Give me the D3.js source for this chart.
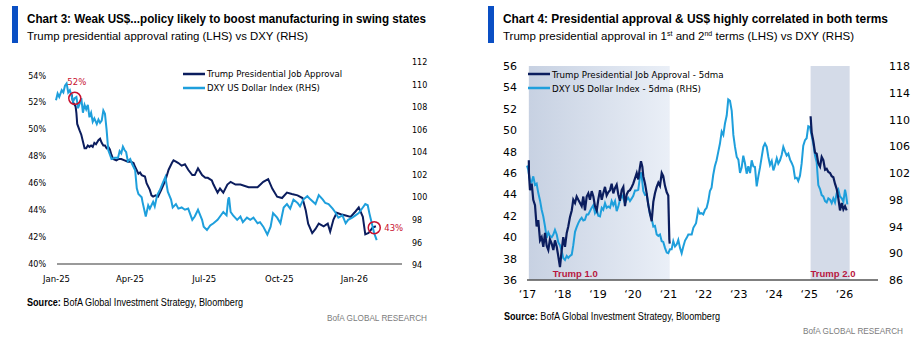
<!DOCTYPE html>
<html>
<head>
<meta charset="utf-8">
<script src="https://cdn.jsdelivr.net/npm/d3@7"></script>
<style>
  body { margin: 0; background: #fff; }
  svg { display: block; }
  text { font-family: "DejaVu Sans", Verdana, sans-serif; }
  .cal { font-family: "Liberation Sans", Arial, sans-serif; }
</style>
</head>
<body>
<svg id="chart" width="921" height="345"></svg>
<script>
// ---- chart 3 data (daily, Jan-25 .. Jan-26)
const approval25 = [["2025-01-20",52.6],["2025-01-22",52.0],["2025-01-25",51.7],["2025-01-26",51.2],["2025-01-27",50.4],["2025-01-30",49.9],["2025-02-01",49.6],["2025-02-03",49.1],["2025-02-05",48.6],["2025-02-07",48.6],["2025-02-09",48.8],["2025-02-11",48.7],["2025-02-13",48.8],["2025-02-15",48.7],["2025-02-17",49.0],["2025-02-19",48.9],["2025-02-22",49.2],["2025-02-24",49.3],["2025-02-26",49.0],["2025-02-28",48.8],["2025-03-02",48.8],["2025-03-04",48.6],["2025-03-06",48.7],["2025-03-08",48.5],["2025-03-10",48.1],["2025-03-12",47.8],["2025-03-16",47.7],["2025-03-19",47.8],["2025-03-22",47.8],["2025-03-26",47.7],["2025-03-30",47.6],["2025-04-03",47.6],["2025-04-06",47.5],["2025-04-08",47.2],["2025-04-12",46.7],["2025-04-14",46.8],["2025-04-16",46.6],["2025-04-20",46.5],["2025-04-22",46.0],["2025-04-26",45.5],["2025-04-28",45.1],["2025-04-30",45.0],["2025-05-03",45.1],["2025-05-06",45.0],["2025-05-10",45.5],["2025-05-15",46.2],["2025-05-19",47.0],["2025-05-23",47.5],["2025-05-25",47.7],["2025-05-28",47.6],["2025-05-31",47.5],["2025-06-04",47.3],["2025-06-08",47.4],["2025-06-12",47.0],["2025-06-17",46.6],["2025-06-20",46.6],["2025-06-24",47.1],["2025-06-29",46.6],["2025-07-03",46.4],["2025-07-06",46.4],["2025-07-11",46.2],["2025-07-13",45.9],["2025-07-18",45.3],["2025-07-21",45.6],["2025-07-25",45.3],["2025-07-30",45.9],["2025-08-03",46.1],["2025-08-09",45.9],["2025-08-15",45.9],["2025-08-25",45.7],["2025-09-05",45.7],["2025-09-12",46.1],["2025-09-18",46.3],["2025-09-23",45.6],["2025-09-29",45.0],["2025-10-05",44.9],["2025-10-11",45.3],["2025-10-17",45.2],["2025-10-24",45.1],["2025-10-30",44.9],["2025-11-03",44.0],["2025-11-06",43.0],["2025-11-11",42.3],["2025-11-15",42.6],["2025-11-19",43.0],["2025-11-25",42.8],["2025-11-30",43.0],["2025-12-03",42.4],["2025-12-07",43.3],["2025-12-11",43.8],["2025-12-16",43.7],["2025-12-22",43.6],["2025-12-28",43.5],["2026-01-03",43.9],["2026-01-07",44.2],["2026-01-12",43.5],["2026-01-15",42.2],["2026-01-19",42.3],["2026-01-24",42.7],["2026-01-28",42.8]];

const dxy25 = [["2025-01-01",108.6],["2025-01-03",109.2],["2025-01-05",108.9],["2025-01-08",109.5],["2025-01-10",109.3],["2025-01-12",109.9],["2025-01-14",110.1],["2025-01-16",109.3],["2025-01-18",109.5],["2025-01-20",109.0],["2025-01-22",108.5],["2025-01-24",108.8],["2025-01-26",108.9],["2025-01-28",107.9],["2025-01-30",108.3],["2025-02-01",108.8],["2025-02-03",107.5],["2025-02-05",108.2],["2025-02-07",107.8],["2025-02-09",108.2],["2025-02-11",107.1],["2025-02-13",107.5],["2025-02-15",106.7],["2025-02-17",107.0],["2025-02-20",106.5],["2025-02-22",106.9],["2025-02-24",106.6],["2025-02-26",106.8],["2025-02-28",107.7],["2025-03-02",107.4],["2025-03-04",106.0],["2025-03-06",104.2],["2025-03-08",103.8],["2025-03-10",103.4],["2025-03-14",103.5],["2025-03-18",103.5],["2025-03-20",104.1],["2025-03-22",103.9],["2025-03-24",104.5],["2025-03-26",104.2],["2025-03-28",104.0],["2025-03-30",103.2],["2025-04-02",103.4],["2025-04-04",103.0],["2025-04-08",102.4],["2025-04-10",100.8],["2025-04-12",100.3],["2025-04-16",100.0],["2025-04-17",99.6],["2025-04-21",98.3],["2025-04-24",99.3],["2025-04-26",99.0],["2025-04-30",99.6],["2025-05-02",99.2],["2025-05-05",100.2],["2025-05-08",100.6],["2025-05-12",101.3],["2025-05-15",101.8],["2025-05-18",100.5],["2025-05-22",99.8],["2025-05-24",99.1],["2025-05-28",99.4],["2025-05-31",99.0],["2025-06-04",99.1],["2025-06-08",98.9],["2025-06-12",99.0],["2025-06-17",98.0],["2025-06-20",98.3],["2025-06-24",98.9],["2025-06-29",98.0],["2025-07-01",97.4],["2025-07-05",97.1],["2025-07-09",97.5],["2025-07-13",97.7],["2025-07-18",98.0],["2025-07-21",98.3],["2025-07-25",98.7],["2025-07-29",98.4],["2025-07-31",99.8],["2025-08-01",100.0],["2025-08-03",98.7],["2025-08-06",98.4],["2025-08-11",98.0],["2025-08-15",98.3],["2025-08-18",97.8],["2025-08-23",98.2],["2025-08-27",98.0],["2025-08-31",98.2],["2025-09-05",97.7],["2025-09-08",97.8],["2025-09-12",97.4],["2025-09-17",96.7],["2025-09-21",97.4],["2025-09-24",98.6],["2025-09-29",98.2],["2025-10-03",97.7],["2025-10-07",99.1],["2025-10-11",99.4],["2025-10-15",99.0],["2025-10-19",99.8],["2025-10-24",99.5],["2025-10-27",99.2],["2025-10-31",99.8],["2025-11-05",100.1],["2025-11-09",99.8],["2025-11-15",99.4],["2025-11-19",100.2],["2025-11-24",99.8],["2025-11-27",99.5],["2025-12-01",99.4],["2025-12-06",99.0],["2025-12-09",98.7],["2025-12-13",98.2],["2025-12-18",98.4],["2025-12-22",97.7],["2025-12-25",98.0],["2025-12-30",98.2],["2026-01-03",98.4],["2026-01-07",98.6],["2026-01-12",99.1],["2026-01-15",99.4],["2026-01-18",99.3],["2026-01-20",98.6],["2026-01-24",97.4],["2026-01-26",96.8],["2026-01-29",96.2]];

const callouts = [["2025-01-24", 52.3, "52%"], ["2026-01-26", 42.7, "43%"]];
const pctTicks = [40, 42, 44, 46, 48, 50, 52, 54];
const dxyTicks3 = [94, 96, 98, 100, 102, 104, 106, 108, 110, 112];
const monthTicks = ["2025-01-01", "2025-04-01", "2025-07-01", "2025-10-01", "2026-01-01"];

// ---- chart 4 data (5dma, 2017 .. 2026)
const approval1 = [["2017-01-20",47.2],["2017-01-21",46.0],["2017-02-01",44.4],["2017-02-19",45.0],["2017-03-07",43.5],["2017-03-25",43.0],["2017-04-11",41.0],["2017-04-28",41.6],["2017-05-16",39.7],["2017-06-02",40.0],["2017-06-19",39.1],["2017-07-07",40.4],["2017-07-24",39.2],["2017-08-10",38.8],["2017-08-27",39.8],["2017-09-14",39.4],["2017-10-01",38.8],["2017-10-18",39.7],["2017-11-05",39.1],["2017-11-22",38.2],["2017-12-09",37.2],["2017-12-27",38.8],["2018-01-12",40.0],["2018-01-30",39.1],["2018-02-17",40.4],["2018-03-05",41.0],["2018-03-23",41.9],["2018-04-10",42.5],["2018-04-26",43.5],["2018-05-14",43.2],["2018-05-31",43.8],["2018-06-17",43.5],["2018-07-05",43.2],["2018-07-22",42.9],["2018-08-08",43.8],["2018-08-25",42.5],["2018-09-12",43.8],["2018-09-29",44.1],["2018-10-16",43.5],["2018-11-03",44.3],["2018-11-20",43.8],["2018-12-07",42.9],["2018-12-25",42.5],["2019-01-10",43.5],["2019-01-28",44.4],["2019-02-15",43.5],["2019-03-03",44.1],["2019-03-21",44.7],["2019-04-07",43.9],["2019-04-24",44.2],["2019-05-12",44.4],["2019-05-29",45.0],["2019-06-15",44.1],["2019-07-03",44.6],["2019-07-20",44.9],["2019-08-06",44.0],["2019-08-23",43.4],["2019-09-10",44.4],["2019-09-27",44.7],["2019-10-14",42.9],["2019-11-01",44.0],["2019-11-17",44.3],["2019-12-05",44.4],["2019-12-23",44.7],["2020-01-08",45.0],["2020-01-26",45.5],["2020-02-13",46.0],["2020-02-29",45.4],["2020-03-18",46.6],["2020-03-28",47.1],["2020-04-11",46.6],["2020-04-21",45.7],["2020-05-09",45.0],["2020-05-26",44.1],["2020-06-12",43.0],["2020-06-30",42.2],["2020-07-17",41.5],["2020-08-03",43.3],["2020-08-20",44.1],["2020-09-07",44.7],["2020-09-24",45.1],["2020-10-11",44.8],["2020-10-29",46.0],["2020-11-14",45.7],["2020-12-02",44.8],["2020-12-20",44.2],["2021-01-05",43.9],["2021-01-16",39.8],["2021-01-20",39.4]];

const approval2 = [["2025-01-20",51.3],["2025-01-31",49.8],["2025-02-17",49.0],["2025-03-07",47.9],["2025-03-24",47.8],["2025-04-10",46.9],["2025-04-28",46.6],["2025-05-15",47.5],["2025-06-01",47.2],["2025-06-19",46.3],["2025-07-06",46.4],["2025-07-23",46.1],["2025-08-10",46.0],["2025-08-27",45.7],["2025-09-13",45.6],["2025-09-30",45.0],["2025-10-18",44.5],["2025-11-04",43.6],["2025-11-21",42.5],["2025-12-09",43.2],["2025-12-26",42.6],["2026-01-12",42.9],["2026-01-29",42.5]];

const dxy17 = [["2017-01-01",103.1],["2017-01-14",102.5],["2017-02-01",100.8],["2017-02-18",100.6],["2017-03-07",101.5],["2017-03-25",100.2],["2017-04-11",100.4],["2017-04-28",99.0],["2017-05-16",97.9],["2017-06-02",96.5],["2017-06-19",95.5],["2017-07-07",94.0],["2017-07-24",92.3],["2017-08-10",93.1],["2017-08-27",92.6],["2017-09-14",92.4],["2017-10-01",92.8],["2017-10-18",93.5],["2017-11-05",92.8],["2017-11-22",91.6],["2017-12-09",91.2],["2017-12-27",90.3],["2018-01-12",89.3],["2018-01-30",89.0],["2018-02-17",89.6],["2018-03-05",89.3],["2018-03-23",89.6],["2018-04-10",89.8],["2018-04-26",91.2],["2018-05-14",93.2],["2018-05-31",93.9],["2018-06-17",94.5],["2018-07-05",95.0],["2018-07-22",95.3],["2018-08-08",94.9],["2018-08-25",95.0],["2018-09-12",95.8],["2018-09-29",95.8],["2018-10-16",96.3],["2018-11-03",96.8],["2018-11-20",97.2],["2018-12-07",96.0],["2018-12-25",96.5],["2019-01-10",95.6],["2019-01-28",95.5],["2019-02-15",96.8],["2019-03-03",96.5],["2019-03-21",97.5],["2019-04-07",96.8],["2019-04-24",97.0],["2019-05-12",96.8],["2019-05-29",97.8],["2019-06-15",97.2],["2019-07-03",97.8],["2019-07-20",96.3],["2019-08-06",97.0],["2019-08-23",98.0],["2019-09-10",98.7],["2019-09-27",98.2],["2019-10-14",97.5],["2019-11-01",98.0],["2019-11-17",98.3],["2019-12-05",97.8],["2019-12-23",98.2],["2020-01-08",98.6],["2020-01-26",99.4],["2020-02-13",99.4],["2020-02-29",99.5],["2020-03-18",101.5],["2020-03-31",102.1],["2020-04-21",99.3],["2020-05-09",98.7],["2020-05-26",98.8],["2020-06-12",97.3],["2020-06-30",95.8],["2020-07-17",95.2],["2020-08-03",94.0],["2020-08-20",94.1],["2020-09-07",92.8],["2020-09-24",92.6],["2020-10-11",92.8],["2020-10-29",91.8],["2020-11-14",91.7],["2020-12-02",90.8],["2020-12-20",90.1],["2021-01-05",90.0],["2021-01-23",90.6],["2021-02-09",90.6],["2021-02-26",91.8],["2021-03-16",91.0],["2021-04-02",91.3],["2021-04-19",92.0],["2021-05-07",90.8],["2021-05-24",90.0],["2021-06-10",91.0],["2021-06-28",91.9],["2021-07-15",92.3],["2021-08-01",92.8],["2021-08-18",92.8],["2021-09-05",92.8],["2021-09-22",93.8],["2021-10-20",94.5],["2021-11-12",96.5],["2021-11-30",95.9],["2021-12-17",96.0],["2022-01-03",95.8],["2022-01-21",96.5],["2022-02-07",96.8],["2022-02-24",97.8],["2022-03-13",99.3],["2022-03-30",99.8],["2022-04-16",101.7],["2022-05-03",103.0],["2022-05-21",103.9],["2022-06-08",105.2],["2022-06-25",106.4],["2022-07-13",108.2],["2022-07-30",107.7],["2022-08-16",109.4],["2022-09-03",110.6],["2022-09-19",113.0],["2022-10-07",112.8],["2022-10-25",111.3],["2022-11-11",107.7],["2022-11-28",105.9],["2022-12-16",104.4],["2023-01-02",104.0],["2023-01-19",102.0],["2023-02-05",102.8],["2023-02-22",104.6],["2023-03-11",103.5],["2023-03-29",101.9],["2023-04-15",103.0],["2023-05-03",102.0],["2023-05-20",103.9],["2023-06-06",103.0],["2023-06-23",102.9],["2023-07-11",100.0],["2023-07-28",101.5],["2023-08-14",102.8],["2023-09-01",104.4],["2023-09-18",105.9],["2023-10-05",106.4],["2023-10-23",105.9],["2023-11-09",104.4],["2023-11-26",103.2],["2023-12-14",103.8],["2023-12-31",102.4],["2024-01-14",103.0],["2024-02-04",104.2],["2024-02-20",103.4],["2024-03-09",103.9],["2024-03-26",104.7],["2024-04-12",105.9],["2024-04-30",105.2],["2024-05-17",104.6],["2024-06-03",104.9],["2024-06-21",104.0],["2024-07-08",103.5],["2024-07-25",102.9],["2024-08-12",101.2],["2024-08-29",101.3],["2024-09-14",100.8],["2024-10-02",101.6],["2024-10-19",103.4],["2024-11-05",106.1],["2024-11-23",106.9],["2024-12-10",107.2],["2024-12-27",109.0],["2025-01-13",108.9],["2025-01-31",107.6],["2025-02-17",106.4],["2025-03-07",104.6],["2025-03-24",103.6],["2025-04-10",100.2],["2025-04-28",99.6],["2025-05-15",98.7],["2025-06-01",98.5],["2025-06-19",97.8],["2025-07-06",97.6],["2025-07-23",98.2],["2025-08-10",98.0],["2025-08-27",97.5],["2025-09-13",98.2],["2025-09-30",97.6],["2025-10-18",99.0],["2025-11-04",99.5],["2025-11-21",98.5],["2025-12-09",98.2],["2025-12-26",97.7],["2026-01-12",99.5],["2026-01-22",98.8],["2026-02-05",97.3]];

const terms = [["2017-01-20", "2021-01-20", "Trump 1.0"], ["2025-01-20", "2026-03-01", "Trump 2.0"]];
const approvalTicks4 = [36, 38, 40, 42, 44, 46, 48, 50, 52, 54, 56];
const dxyTicks4 = [86, 90, 94, 98, 102, 106, 110, 114, 118];
const yearTicks = ["2017","2018","2019","2020","2021","2022","2023","2024","2025","2026"];

const NAVY = "#0b1d5e", SKY = "#1e9fdc", RED = "#c8102e", BAR = "#0a4fc4";

var svg = d3.select("#chart");
var parse = d3.timeParse("%Y-%m-%d");
var rows = (arr) => arr.map(d => ({ date: parse(d[0]), value: d[1] }));

var header = (x, bx, title, titleLen) => {
  svg.append("rect").attr("x", bx).attr("y", 6).attr("width", 6).attr("height", 37).attr("fill", BAR);
  svg.append("text").attr("class", "cal").attr("x", x).attr("y", 23)
    .attr("font-size", 12.5).attr("font-weight", "bold").attr("fill", "#000")
    .attr("textLength", titleLen).attr("lengthAdjust", "spacingAndGlyphs").text(title);
};

var footer = (x, y, fx, fy) => {
  var s = svg.append("text").attr("class", "cal").attr("x", x).attr("y", y)
    .attr("font-size", 10).attr("fill", "#000")
    .attr("textLength", 216).attr("lengthAdjust", "spacingAndGlyphs");
  s.append("tspan").attr("font-weight", "bold").text("Source:");
  s.append("tspan").text(" BofA Global Investment Strategy, Bloomberg");
  svg.append("text").attr("class", "cal").attr("x", fx).attr("y", fy)
    .attr("font-size", 9).attr("fill", "#7c7c7c")
    .attr("textLength", 100).attr("lengthAdjust", "spacingAndGlyphs").text("BofA GLOBAL RESEARCH");
};

var styleAxis = (g, size, cls) => {
  g.select(".domain").remove();
  g.selectAll("text").attr("font-size", size).attr("fill", "#000")
    .attr("font-family", cls ? "Liberation Sans, Arial, sans-serif" : "DejaVu Sans, Verdana, sans-serif");
};

// ================= Chart 3 =================
(function () {
  var appr = rows(approval25), dxy = rows(dxy25);
  var x = d3.scaleTime().domain([parse("2025-01-01"), parse("2026-03-01")]).range([56, 402]);
  var yL = d3.scaleLinear().domain([40, 55]).range([264, 62]);
  var yR = d3.scaleLinear().domain([94, 112]).range([265, 62]);

  header(27, 12, "Chart 3: Weak US$...policy likely to boost manufacturing in swing states", 399);
  svg.append("text").attr("class", "cal").attr("x", 27).attr("y", 40).attr("font-size", 11.5)
    .attr("textLength", 281).attr("lengthAdjust", "spacingAndGlyphs")
    .text("Trump presidential approval rating (LHS) vs DXY (RHS)");

  svg.append("g").attr("transform", "translate(56,0)")
    .call(d3.axisLeft(yL).tickValues(pctTicks).tickFormat(d => d + "%").tickSize(0).tickPadding(10))
    .call(g => styleAxis(g, 8));
  svg.append("g").attr("transform", "translate(402,0)")
    .call(d3.axisRight(yR).tickValues(dxyTicks3).tickSize(0).tickPadding(10))
    .call(g => styleAxis(g, 8));
  svg.append("g").attr("transform", "translate(0,264)")
    .call(d3.axisBottom(x).tickValues(monthTicks.map(parse)).tickFormat(d3.timeFormat("%b-%y")).tickSize(0).tickPadding(12))
    .call(g => styleAxis(g, 8.5));

  svg.append("line").attr("x1", 57).attr("x2", 402).attr("y1", yL(40)).attr("y2", yL(40))
    .attr("stroke", "#9a9a9a").attr("stroke-width", 2);

  svg.append("path").datum(appr).attr("fill", "none").attr("stroke", NAVY).attr("stroke-width", 2)
    .attr("d", d3.line().x(d => x(d.date)).y(d => yL(d.value)));
  svg.append("path").datum(dxy).attr("fill", "none").attr("stroke", SKY).attr("stroke-width", 2)
    .attr("d", d3.line().x(d => x(d.date)).y(d => yR(d.value)));

  // start / latest approval callouts
  callouts.forEach((c, i) => {
    var cx = x(parse(c[0])), cy = yL(c[1]);
    svg.append("circle").attr("cx", cx).attr("cy", cy).attr("r", 6)
      .attr("fill", "none").attr("stroke", RED).attr("stroke-width", 1.5);
    if (i === 0)
      svg.append("text").attr("x", cx + 2).attr("y", cy - 13).attr("text-anchor", "middle")
        .attr("font-size", 8.5).attr("fill", RED).text(c[2]);
    else
      svg.append("text").attr("x", cx + 10).attr("y", cy + 3.5)
        .attr("font-size", 8.5).attr("fill", RED).text(c[2]);
  });

  var leg = [["Trump Presidential Job Approval", NAVY], ["DXY US Dollar Index (RHS)", SKY]];
  leg.forEach((l, i) => {
    var yy = 74 + i * 14;
    svg.append("line").attr("x1", 183).attr("x2", 205).attr("y1", yy).attr("y2", yy)
      .attr("stroke", l[1]).attr("stroke-width", 2.5);
    svg.append("text").attr("x", 207).attr("y", yy + 3).attr("font-size", 8.5).text(l[0]);
  });

  footer(27, 306, 327, 321);
})();

// ================= Chart 4 =================
(function () {
  var a1 = rows(approval1), a2 = rows(approval2), dxy = rows(dxy17);
  var x = d3.scaleTime().domain([parse("2017-01-01"), parse("2026-12-20")]).range([527, 878]);
  var yL = d3.scaleLinear().domain([36, 56]).range([280, 66]);
  var yR = d3.scaleLinear().domain([86, 118]).range([280, 66]);

  header(503, 488, "Chart 4: Presidential approval & US$ highly correlated in both terms", 385);
  var sub = svg.append("text").attr("class", "cal").attr("x", 503).attr("y", 40).attr("font-size", 11.5)
    .attr("textLength", 351).attr("lengthAdjust", "spacingAndGlyphs");
  sub.append("tspan").text("Trump presidential approval in 1");
  sub.append("tspan").attr("dy", -4).attr("font-size", 7).text("st");
  sub.append("tspan").attr("dy", 4).text(" and 2");
  sub.append("tspan").attr("dy", -4).attr("font-size", 7).text("nd");
  sub.append("tspan").attr("dy", 4).text(" terms (LHS) vs DXY (RHS)");

  var defs = svg.append("defs");
  var grad = defs.append("linearGradient").attr("id", "t1").attr("x1", 0).attr("x2", 1).attr("y1", 0).attr("y2", 0);
  grad.append("stop").attr("offset", 0).attr("stop-color", "#c7d1e2");
  grad.append("stop").attr("offset", 1).attr("stop-color", "#eaeff7");

  terms.forEach((t, i) => {
    var x0 = x(parse(t[0])), x1 = x(parse(t[1]));
    svg.append("rect").attr("x", x0).attr("y", yL(56)).attr("width", x1 - x0).attr("height", yL(36) - yL(56))
      .attr("fill", i === 0 ? "url(#t1)" : "#d4dbe8");
    svg.append("text").attr("class", "cal").attr("x", x0 + (i === 0 ? 24 : 0)).attr("y", 277)
      .attr("font-size", 9.5).attr("font-weight", "bold").attr("fill", "#b8173f").text(t[2]);
  });

  svg.append("g").attr("transform", "translate(527,0)")
    .call(d3.axisLeft(yL).tickValues(approvalTicks4).tickSize(0).tickPadding(10))
    .call(g => styleAxis(g, 11, true));
  svg.append("g").attr("transform", "translate(878,0)")
    .call(d3.axisRight(yR).tickValues(dxyTicks4).tickSize(0).tickPadding(11))
    .call(g => styleAxis(g, 11, true));
  svg.append("g").attr("transform", "translate(0,280)")
    .call(d3.axisBottom(x).tickValues(yearTicks.map(d3.timeParse("%Y")))
      .tickFormat(d => "\u2018" + d3.timeFormat("%y")(d)).tickSize(0).tickPadding(10))
    .call(g => styleAxis(g, 11, true));

  svg.append("line").attr("x1", 527).attr("x2", 878).attr("y1", yL(36)).attr("y2", yL(36))
    .attr("stroke", "#555").attr("stroke-width", 1.5);

  svg.append("path").datum(dxy).attr("fill", "none").attr("stroke", SKY).attr("stroke-width", 2)
    .attr("d", d3.line().x(d => x(d.date)).y(d => yR(d.value)));
  [a1, a2].forEach(a => {
    svg.append("path").datum(a).attr("fill", "none").attr("stroke", NAVY).attr("stroke-width", 2.2)
      .attr("d", d3.line().x(d => x(d.date)).y(d => yL(d.value)));
  });

  var leg = [["Trump Presidential Job Approval - 5dma", NAVY], ["DXY US Dollar Index - 5dma (RHS)", SKY]];
  leg.forEach((l, i) => {
    var yy = 74 + i * 14;
    svg.append("line").attr("x1", 528).attr("x2", 550).attr("y1", yy).attr("y2", yy)
      .attr("stroke", l[1]).attr("stroke-width", 2.5);
    svg.append("text").attr("x", 552).attr("y", yy + 3.5).attr("font-size", 8.7).text(l[0]);
  });

  footer(504, 320, 803, 334);
})();
</script>
</body>
</html>
